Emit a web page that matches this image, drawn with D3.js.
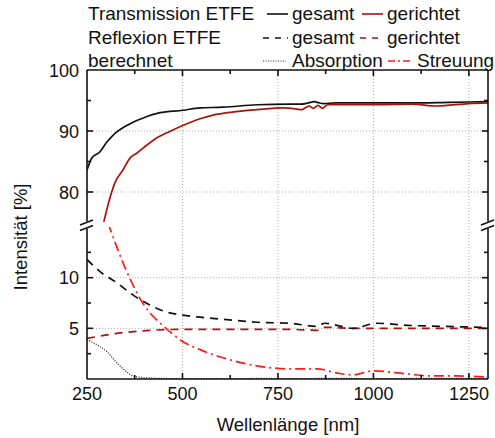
<!DOCTYPE html>
<html lang="de">
<head>
<meta charset="utf-8">
<title>Transmission / Reflexion ETFE</title>
<script src="https://d3js.org/d3.v7.min.js"></script>
<style>
  body { margin: 0; background: #fff; }
  svg text { font-family: "Liberation Sans", Arial, sans-serif; fill: #111; }
</style>
</head>
<body>
<div id="chart"></div>
<script>
// wavelengths [nm] and values [%]
var transGesamtX = [250, 263, 284, 302, 318, 357, 396, 441, 501, 546, 606, 695, 781, 810, 830, 845, 858, 870, 900, 1000, 1100, 1200, 1300];
var transGesamtY = [83.6, 85.6, 86.6, 88.2, 89.3, 91.0, 92.1, 93.0, 93.4, 93.8, 93.9, 94.3, 94.4, 94.4, 94.6, 94.8, 94.6, 94.5, 94.6, 94.6, 94.6, 94.7, 94.8];

var transGerX = [294, 310, 323, 344, 363, 381, 407, 433, 459, 493, 520, 546, 580, 630, 695, 763, 800, 812, 822, 832, 842, 855, 866, 880, 1000, 1100, 1166, 1250, 1300];
var transGerY = [75.1, 79.0, 81.5, 83.6, 85.6, 86.4, 87.7, 88.9, 89.7, 90.7, 91.4, 92.0, 92.6, 93.1, 93.5, 93.8, 93.6, 93.5, 93.8, 94.1, 93.7, 94.2, 93.7, 94.3, 94.3, 94.4, 94.1, 94.5, 94.6];

var reflGesamtX = [250, 284, 328, 370, 415, 459, 501, 546, 606, 695, 781, 852, 873, 904, 946, 1009, 1088, 1174, 1297];
var reflGesamtY = [11.8, 10.6, 9.5, 8.3, 7.3, 6.6, 6.3, 6.1, 5.9, 5.6, 5.5, 5.2, 5.5, 5.3, 5.0, 5.5, 5.3, 5.2, 5.1];

var reflGerX = [250, 328, 415, 501, 606, 781, 852, 873, 946, 1000, 1100, 1200, 1300];
var reflGerY = [4.0, 4.5, 4.8, 4.9, 4.9, 4.9, 4.8, 5.1, 5.0, 5.0, 5.0, 5.0, 5.0];

var absorpX = [250, 270, 284, 302, 328, 354, 370, 395, 415, 450, 500, 600, 700, 800, 900, 1000, 1100, 1200, 1300];
var absorpY = [3.9, 3.5, 3.2, 2.7, 1.6, 0.7, 0.3, 0.15, 0.1, 0.05, 0.04, 0.03, 0.05, 0.04, 0.06, 0.04, 0.05, 0.06, 0.05];

var streuX = [305, 354, 396, 454, 501, 546, 606, 695, 781, 852, 904, 946, 999, 1088, 1148, 1219, 1297];
var streuY = [15.4, 10.6, 7.5, 5.1, 3.7, 2.9, 2.1, 1.3, 1.0, 1.0, 0.6, 0.4, 0.8, 0.5, 0.3, 0.3, 0.2];

var xTicks = [250, 500, 750, 1000, 1250];
var xMinor = [375, 625, 875, 1125];
var upperTicks = [80, 90, 100];
var upperMinor = [85, 95];
var lowerTicks = [5, 10];
var lowerMinor = [2.5, 7.5, 12.5];

var width = 495, height = 438;
var pLeft = 87, pRight = 488, pTop = 70, pBottom = 379;
var breakTop = 222.5, breakBottom = 227;

var darkRed = "#a8140c", brightRed = "#ff1a1a";

var svg = d3.select("#chart").append("svg")
  .attr("width", width).attr("height", height);

var x = d3.scaleLinear().domain([250, 1300]).range([pLeft, pRight]);
var yUp = d3.scaleLinear().domain([75, 100]).range([breakTop, pTop]);
var yLo = d3.scaleLinear().domain([0, 15]).range([pBottom, breakBottom]);

var defs = svg.append("defs");
defs.append("clipPath").attr("id", "clipUp").append("rect")
  .attr("x", pLeft).attr("y", pTop).attr("width", pRight - pLeft).attr("height", breakTop - pTop);
defs.append("clipPath").attr("id", "clipLo").append("rect")
  .attr("x", pLeft).attr("y", breakBottom).attr("width", pRight - pLeft).attr("height", pBottom - breakBottom);

// grid
var grid = svg.append("g").attr("stroke", "#aaa").attr("stroke-width", 1).attr("stroke-dasharray", "1,2");
grid.selectAll(".gx").data(xTicks.slice(1)).enter().append("line")
  .attr("x1", d => x(d)).attr("x2", d => x(d)).attr("y1", pTop).attr("y2", pBottom);
grid.selectAll(".gu").data([80, 90]).enter().append("line")
  .attr("x1", pLeft).attr("x2", pRight).attr("y1", d => yUp(d)).attr("y2", d => yUp(d));
grid.selectAll(".gl").data(lowerTicks).enter().append("line")
  .attr("x1", pLeft).attr("x2", pRight).attr("y1", d => yLo(d)).attr("y2", d => yLo(d));

function zip(xs, ys) { return xs.map((v, i) => [v, ys[i]]); }

function series(xs, ys, yScale, clip, color, dash, w) {
  var line = d3.line().x(d => x(d[0])).y(d => yScale(d[1])).curve(d3.curveMonotoneX);
  svg.append("path")
    .attr("clip-path", "url(#" + clip + ")")
    .attr("d", line(zip(xs, ys)))
    .attr("fill", "none")
    .attr("stroke", color)
    .attr("stroke-width", w || 1.7)
    .attr("stroke-dasharray", dash);
}

series(absorpX, absorpY, yLo, "clipLo", "#222", "1,1.5", 1.3);
series(reflGerX, reflGerY, yLo, "clipLo", darkRed, "8,6");
series(reflGesamtX, reflGesamtY, yLo, "clipLo", "#111", "8,6");
series(streuX, streuY, yLo, "clipLo", brightRed, "10,4,2,4");
series(transGesamtX, transGesamtY, yUp, "clipUp", "#111", null);
series(transGerX, transGerY, yUp, "clipUp", darkRed, null);

// axes frame
var ax = svg.append("g").attr("stroke", "#111").attr("stroke-width", 1.6).attr("fill", "none");
ax.append("line").attr("x1", pLeft).attr("x2", pRight).attr("y1", pTop).attr("y2", pTop);
ax.append("line").attr("x1", pLeft).attr("x2", pRight).attr("y1", pBottom).attr("y2", pBottom);
[pLeft, pRight].forEach(function (xx) {
  ax.append("line").attr("x1", xx).attr("x2", xx).attr("y1", pTop).attr("y2", breakTop - 1);
  ax.append("line").attr("x1", xx).attr("x2", xx).attr("y1", breakBottom + 1.5).attr("y2", pBottom);
  ax.append("line").attr("x1", xx - 7).attr("x2", xx + 6).attr("y1", breakTop + 2.5).attr("y2", breakTop - 2.5);
  ax.append("line").attr("x1", xx - 7).attr("x2", xx + 6).attr("y1", breakBottom + 3.5).attr("y2", breakBottom - 1.5);
});

// ticks (inward)
function tickX(vals, len) {
  vals.forEach(function (v) {
    ax.append("line").attr("x1", x(v)).attr("x2", x(v)).attr("y1", pBottom).attr("y2", pBottom - len);
    ax.append("line").attr("x1", x(v)).attr("x2", x(v)).attr("y1", pTop).attr("y2", pTop + len);
  });
}
function tickY(vals, scale, len) {
  vals.forEach(function (v) {
    ax.append("line").attr("x1", pLeft).attr("x2", pLeft + len).attr("y1", scale(v)).attr("y2", scale(v));
    ax.append("line").attr("x1", pRight).attr("x2", pRight - len).attr("y1", scale(v)).attr("y2", scale(v));
  });
}
tickX(xTicks.slice(1), 6);
tickX(xMinor, 4);
tickY(upperTicks.slice(0, 2), yUp, 6);
tickY(upperMinor, yUp, 4);
tickY(lowerTicks, yLo, 6);
tickY(lowerMinor, yLo, 4);

// tick labels
svg.selectAll(".xl").data(xTicks).enter().append("text")
  .attr("x", d => x(d)).attr("y", 400).attr("text-anchor", "middle")
  .attr("font-size", 18).text(d => d);
svg.selectAll(".yu").data(upperTicks).enter().append("text")
  .attr("x", 79).attr("y", d => yUp(d) + 6.5).attr("text-anchor", "end")
  .attr("font-size", 18).text(d => d);
svg.selectAll(".yl").data(lowerTicks).enter().append("text")
  .attr("x", 79).attr("y", d => yLo(d) + 6.5).attr("text-anchor", "end")
  .attr("font-size", 18).text(d => d);

// axis titles
svg.append("text").attr("x", 288).attr("y", 431).attr("text-anchor", "middle")
  .attr("font-size", 18.5).text("Wellenlänge [nm]");
svg.append("text").attr("transform", "translate(27,237) rotate(-90)").attr("text-anchor", "middle")
  .attr("font-size", 18.5).text("Intensität [%]");

// legend
var legendRows = [
  { title: "Transmission ETFE", y: 20, items: [
    { x1: 267, x2: 288, label: "gesamt", lx: 292, color: "#111", dash: null },
    { x1: 362, x2: 383, label: "gerichtet", lx: 387, color: darkRed, dash: null }] },
  { title: "Reflexion ETFE", y: 44, items: [
    { x1: 263, x2: 288, label: "gesamt", lx: 292, color: "#111", dash: "6,6" },
    { x1: 360, x2: 383, label: "gerichtet", lx: 387, color: darkRed, dash: "6,6" }] },
  { title: "berechnet", y: 67, items: [
    { x1: 263, x2: 286, label: "Absorption", lx: 292, color: "#222", dash: "1,1.5" },
    { x1: 388, x2: 413, label: "Streuung", lx: 417, color: brightRed, dash: "7,3,2,3" }] }
];
var lg = svg.append("g");
legendRows.forEach(function (row) {
  lg.append("text").attr("x", 88).attr("y", row.y).attr("font-size", 19).text(row.title);
  row.items.forEach(function (it) {
    lg.append("line").attr("x1", it.x1).attr("x2", it.x2)
      .attr("y1", row.y - 6).attr("y2", row.y - 6)
      .attr("stroke", it.color).attr("stroke-width", it.dash === "1,1.5" ? 1.2 : 1.6)
      .attr("stroke-dasharray", it.dash);
    lg.append("text").attr("x", it.lx).attr("y", row.y).attr("font-size", 19).text(it.label);
  });
});
</script>
</body>
</html>
